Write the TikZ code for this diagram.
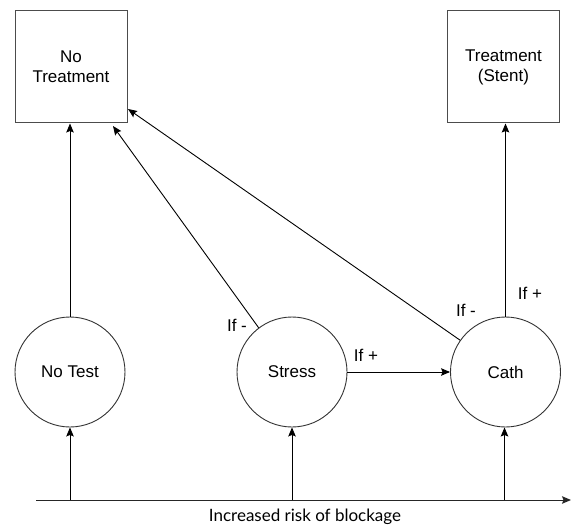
\documentclass[tikz,border=0pt]{standalone}
\usepackage{fontspec}
\setmainfont{Liberation Sans}
\newfontfamily\axisfont{Lato}
\usetikzlibrary{arrows.meta}
\begin{document}
\begin{tikzpicture}[x=1pt,y=-1pt,
  box/.style={draw=black!70,line width=1pt,minimum width=112pt,minimum height=112pt,inner sep=0pt,align=center,font=\fontsize{17}{20}\selectfont},
  state/.style={draw=black!80,line width=0.9pt,circle,minimum size=110pt,inner sep=0pt,font=\fontsize{17}{20}\selectfont},
  arr/.style={-{Stealth[length=9pt,width=7.5pt,inset=1.5pt]},line width=0.9pt},
  lab/.style={font=\fontsize{17}{20}\selectfont,inner sep=0pt}]
\useasboundingbox (0,0) rectangle (571,527);
\node[box] (nt) at (71,67) {No\\Treatment};
\node[box] (ts) at (503.5,67) {Treatment\\(Stent)};
\node[state] (notest) at (70,372) {No Test};
\node[state] (stress) at (292,372) {Stress};
\node[state] (cath) at (505.5,372) {Cath};
\coordinate (a0) at (36,500);
\coordinate (a1) at (571,500);
\coordinate (b1) at (70,500);
\coordinate (b2) at (292,500);
\coordinate (b3) at (504.5,500);
\coordinate (e1) at (113,126);
\coordinate (e2) at (128,109);
\draw[arr,line width=1pt,draw=black!85] (a0) -- (a1);
\node[font=\axisfont\fontsize{17}{20}\selectfont,inner sep=0pt] (axl) at (305,517) {Increased risk of blockage};
\draw[arr] (b1) -- (notest.south);
\draw[arr] (b2) -- (stress.south);
\draw[arr] (b3) -- (cath.south -| b3);
\draw[arr] (notest.north) -- (notest.north |- nt.south);
\draw[arr] (stress.127) -- (e1);
\draw[arr] (cath.145) -- (e2);
\draw[arr] (cath.north) -- (cath.north |- ts.south);
\draw[arr] (stress.east) -- (cath.west);
\node[lab] (l1) at (237,325) {If -};
\node[lab] (l2) at (366,355) {If +};
\node[lab] (l3) at (466,310) {If -};
\node[lab] (l4) at (530,293) {If +};
\end{tikzpicture}
\end{document}
